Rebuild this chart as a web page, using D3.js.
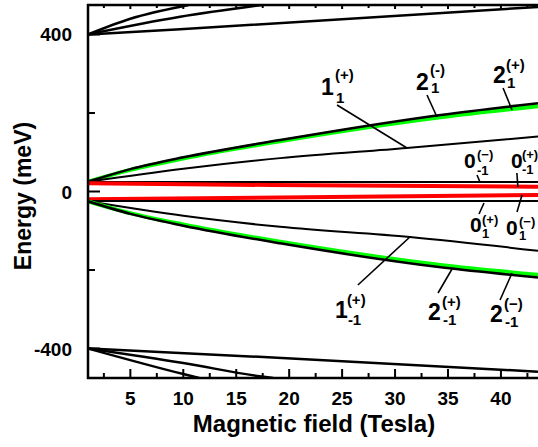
<!DOCTYPE html>
<html><head><meta charset="utf-8">
<script src="https://cdn.jsdelivr.net/npm/d3@7"></script>
<style>body{margin:0;background:#fff}svg{display:block}text{font-family:"Liberation Sans",Arial,sans-serif;font-weight:bold}</style>
</head><body><div id="chart"></div>
<script>
// ---- data (B in Tesla, E in meV) ----
const xMajorTicks = [5, 10, 15, 20, 25, 30, 35, 40];
const xMinorTicks = [2.5, 7.5, 12.5, 17.5, 22.5, 27.5, 32.5, 37.5, 42.5];
const yMajorTicks = [-400, 0, 400];
const yMinorTicks = [-200, 200];
const xTickLabels = ["5", "10", "15", "20", "25", "30", "35", "40"];
const yTickLabels = ["-400", "0", "400"];

// high-energy fan (top)
const topFanA_B = [1, 5, 10.5];            const topFanA_E = [400, 440, 475];
const topFanB_B = [1, 9.7, 17.45];         const topFanB_E = [400, 445, 475];
const topFanC_B = [1, 9.7, 43.5];          const topFanC_E = [400, 413, 470];
// low-energy fan (bottom)
const botFanD_B = [1, 10, 11.5];           const botFanD_E = [-400, -465, -475];
const botFanE_B = [1, 10, 17.6, 18.5];     const botFanE_E = [-400, -437, -472, -475];
const botFanF_B = [1, 16.3, 43.5];         const botFanF_E = [-400, -420, -459];
// central levels
const lev2p_B = [1, 5, 10, 19.15, 34.3, 43.5];
const lev2pBlack_E = [25, 57, 87, 131, 195, 225];
const lev2pGreen_E = [25, 55, 84, 128, 189, 217];
const lev1p_B = [1, 10, 19.15, 31.1, 43.5];
const lev1p_E = [25, 58, 85, 111, 140];
const lev0pBlack_B = [1, 43.5];            const lev0pBlack_E = [24, 24];
const lev0pRed_B = [1, 18.3, 43.5];        const lev0pRed_E = [21, 16.5, 12];
const lev0mRed_B = [1, 43.5];              const lev0mRed_E = [-20, -9];
const lev0mBlack_B = [1, 43.5];            const lev0mBlack_E = [-24, -24];
const lev1m_B = [1, 10, 19.15, 31.4, 43.5];
const lev1m_E = [-25, -62, -90, -116, -151];
const lev2m_B = [1, 5, 10, 19.15, 34.3, 43.5];
const lev2mGreen_E = [-25, -55, -84, -128, -187, -212];
const lev2mBlack_E = [-25, -57, -87, -132, -193, -219];

// annotation labels: anchor on curve (data units)
const annAnchorB = [31.13, 33.96, 41.05, 38.02, 41.6, 38.4, 41.99, 31.4, 35.38, 41.05];
const annAnchorE = [110.8, 189.8, 207.6, 24.2, 11.5, -29.3, -8.9, -115.9, -197.4, -207.6];
const annMain = ["1", "2", "2", "0", "0", "0", "0", "1", "2", "2"];
const annSup  = ["(+)", "(-)", "(+)", "(\u2212)", "(+)", "(+)", "(\u2212)", "(+)", "(+)", "(\u2212)"];
const annSub  = ["1", "1", "1", "-1", "-1", "1", "1", "-1", "-1", "-1"];

// ---- layout ----
const W = 538, H = 447;
const M = {left: 88, right: 538, top: 5, bottom: 378};
const svg = d3.select("#chart").append("svg").attr("width", W).attr("height", H);
const x = d3.scaleLinear().domain([1, 43.5]).range([M.left, M.right]);
const y = d3.scaleLinear().domain([-475, 475]).range([M.bottom, M.top]);

svg.append("clipPath").attr("id", "clip").append("rect")
  .attr("x", M.left).attr("y", M.top).attr("width", M.right - M.left).attr("height", M.bottom - M.top);

const line = d3.line().x(d => x(d[0])).y(d => y(d[1])).curve(d3.curveMonotoneX);
const zip = (b, e) => b.map((v, i) => [v, e[i]]);
const g = svg.append("g").attr("clip-path", "url(#clip)");
function draw(b, e, color, w) {
  g.append("path").datum(zip(b, e)).attr("d", line).attr("fill", "none")
    .attr("stroke", color).attr("stroke-width", w).attr("stroke-linecap", "butt");
}
draw(topFanA_B, topFanA_E, "#000", 2.5);
draw(topFanB_B, topFanB_E, "#000", 2.5);
draw(topFanC_B, topFanC_E, "#000", 2.5);
draw(botFanD_B, botFanD_E, "#000", 2.5);
draw(botFanE_B, botFanE_E, "#000", 2.5);
draw(botFanF_B, botFanF_E, "#000", 2.5);
draw(lev2p_B, lev2pGreen_E, "#00ff00", 4);
draw(lev2p_B, lev2pBlack_E, "#000", 2.5);
draw(lev1p_B, lev1p_E, "#000", 2);
draw(lev0pBlack_B, lev0pBlack_E, "#000", 2);
draw(lev0pRed_B, lev0pRed_E, "#ff0000", 4);
draw(lev0mRed_B, lev0mRed_E, "#ff0000", 4);
draw(lev0mBlack_B, lev0mBlack_E, "#000", 2);
draw(lev1m_B, lev1m_E, "#000", 2);
draw(lev2m_B, lev2mGreen_E, "#00ff00", 4);
draw(lev2m_B, lev2mBlack_E, "#000", 2.5);

// ---- axes ----
const ax = svg.append("g").attr("stroke", "#000").attr("stroke-width", 2.5);
ax.append("line").attr("x1", M.left).attr("x2", M.left).attr("y1", M.top - 1).attr("y2", M.bottom + 1);
ax.append("line").attr("x1", M.left - 1).attr("x2", M.right).attr("y1", M.bottom).attr("y2", M.bottom);
ax.append("line").attr("x1", M.left - 1).attr("x2", M.right).attr("y1", M.top).attr("y2", M.top);
const tk = svg.append("g").attr("stroke", "#000").attr("stroke-width", 2);
xMajorTicks.forEach(v => {
  tk.append("line").attr("x1", x(v)).attr("x2", x(v)).attr("y1", M.bottom).attr("y2", M.bottom - 9);
  tk.append("line").attr("x1", x(v)).attr("x2", x(v)).attr("y1", M.top).attr("y2", M.top + 4);
});
xMinorTicks.forEach(v => {
  tk.append("line").attr("x1", x(v)).attr("x2", x(v)).attr("y1", M.bottom).attr("y2", M.bottom - 5);
  tk.append("line").attr("x1", x(v)).attr("x2", x(v)).attr("y1", M.top).attr("y2", M.top + 3);
});
yMajorTicks.forEach(v => {
  tk.append("line").attr("x1", M.left).attr("x2", M.left + 12).attr("y1", y(v)).attr("y2", y(v));
});
yMinorTicks.forEach(v => {
  tk.append("line").attr("x1", M.left).attr("x2", M.left + 7).attr("y1", y(v)).attr("y2", y(v));
});
xMajorTicks.forEach((v, i) => {
  svg.append("text").attr("x", x(v)).attr("y", 405).attr("text-anchor", "middle")
    .attr("font-size", 19).text(xTickLabels[i]);
});
yMajorTicks.forEach((v, i) => {
  svg.append("text").attr("x", 72).attr("y", y(v) + 7).attr("text-anchor", "end")
    .attr("font-size", 19).text(yTickLabels[i]);
});
svg.append("text").attr("x", 314).attr("y", 432).attr("text-anchor", "middle")
  .attr("font-size", 24).text("Magnetic field (Tesla)");
svg.append("text").attr("transform", "translate(31,196) rotate(-90)").attr("text-anchor", "middle")
  .attr("font-size", 23).text("Energy (meV)");

// ---- annotations (pixel offsets from anchor) ----
const annTip  = [[-70,-43],[-10,-22],[-9,-22],[-3,-7],[-1,-14],[-5,11],[-5,17],[-52,48],[-14,24],[-12,27]];
const annText = [[-86,-53],[-21,-27],[-19,-27],[-16,-14],[-7,-19],[-14,29],[-16,40],[-75,81],[-24,51],[-22,49]];
const annSupO = [[14,-15],[14,-15],[13,-13],[13,-8.5],[11,-8.5],[12,-8.5],[13,-9],[12,-13],[14,-13],[14,-13]];
const annSubO = [[15,8],[15,3],[14,5],[13,7],[11,6],[12,6],[13,5],[13,7],[15,5],[15,5]];
annMain.forEach((m, i) => {
  const ax0 = x(annAnchorB[i]), ay0 = y(annAnchorE[i]);
  svg.append("line").attr("x1", ax0).attr("y1", ay0)
    .attr("x2", ax0 + annTip[i][0]).attr("y2", ay0 + annTip[i][1])
    .attr("stroke", "#000").attr("stroke-width", 1.6);
  const zero = m === "0";
  const fs = zero ? 21 : 23, ss = zero ? 13 : 15;
  const tx = ax0 + annText[i][0], ty = ay0 + annText[i][1];
  svg.append("text").attr("x", tx).attr("y", ty).attr("font-size", fs).text(m);
  svg.append("text").attr("x", tx + annSupO[i][0]).attr("y", ty + annSupO[i][1]).attr("font-size", ss).text(annSup[i]);
  svg.append("text").attr("x", tx + annSubO[i][0]).attr("y", ty + annSubO[i][1]).attr("font-size", ss).text(annSub[i]);
});
</script></body></html>
